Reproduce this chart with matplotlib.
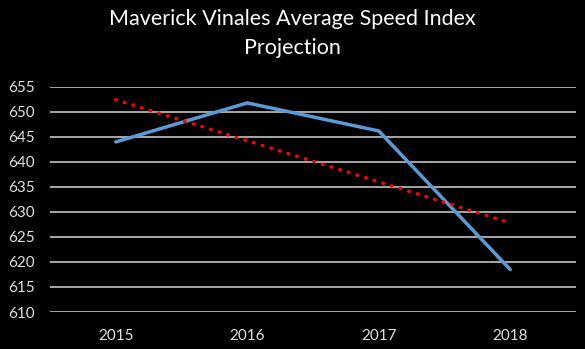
import numpy as np
import matplotlib.pyplot as plt

years = ["2015", "2016", "2017", "2018"]
speed_index = [644.0, 651.8, 646.2, 618.5]
y_ticks = [610, 615, 620, 625, 630, 635, 640, 645, 650, 655]

plt.rcParams['font.family'] = ['Lato', 'DejaVu Sans']

fig = plt.figure(figsize=(5.85, 3.49), dpi=100, facecolor="black")
ax = fig.add_axes([0.0855, 0.106, 0.899, 0.645], facecolor="black")

x = np.arange(len(years))
ax.plot(x, speed_index, color="#5B9BD5", lw=2.5, solid_capstyle="round", zorder=3)

# linear trendline
coef = np.polyfit(x, speed_index, 1)
ax.plot(x, np.polyval(coef, x), color="#FF0000", lw=2.6,
        linestyle=(0, (0.1, 2.4)), dash_capstyle="round", zorder=4)

ax.set_xlim(-0.5, 3.5)
ax.set_ylim(610, 655)
ax.set_yticks(y_ticks)
ax.set_xticks(x)
ax.set_xticklabels(years)
ax.grid(axis="y", color="#a6a6a6", lw=1.4)
ax.set_axisbelow(True)
for s in ax.spines.values():
    s.set_visible(False)
ax.tick_params(length=0, colors="#e0e0e0", labelsize=11)
ax.tick_params(axis="x", pad=12)
ax.tick_params(axis="y", pad=30)
for lbl in ax.get_yticklabels():
    lbl.set_horizontalalignment("left")

fig.text(0.5, 0.975, "Maverick Vinales Average Speed Index\nProjection",
         color="white", fontsize=15.5, ha="center", va="top", linespacing=1.6)

fig.savefig("out.png", dpi=100, facecolor="black")
